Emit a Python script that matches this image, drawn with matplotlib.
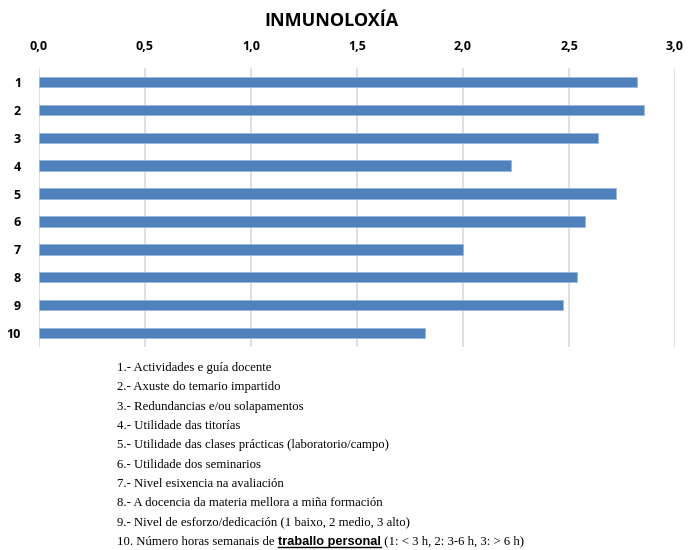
import matplotlib
matplotlib.use("Agg")
import matplotlib.pyplot as plt
from matplotlib.lines import Line2D

title = "INMUNOLOXÍA"
questions = ["1", "2", "3", "4", "5", "6", "7", "8", "9", "10"]
scores = [2.82, 2.855, 2.635, 2.226, 2.72, 2.575, 2.0, 2.54, 2.47, 1.82]
ticks = [0.0, 0.5, 1.0, 1.5, 2.0, 2.5, 3.0]
tick_labels = ["0,0", "0,5", "1,0", "1,5", "2,0", "2,5", "3,0"]
notes = [
    "1.- Actividades e guía docente",
    "2.- Axuste do temario impartido",
    "3.- Redundancias e/ou solapamentos",
    "4.- Utilidade das titorías",
    "5.- Utilidade das clases prácticas (laboratorio/campo)",
    "6.- Utilidade dos seminarios",
    "7.- Nivel esixencia na avaliación",
    "8.- A docencia da materia mellora a miña formación",
    "9.- Nivel de esforzo/dedicación (1 baixo, 2 medio, 3 alto)",
]
last_note = ["10. Número horas semanais de ", "traballo personal", " (1: < 3 h, 2: 3-6 h, 3: > 6 h)"]

fig = plt.figure(figsize=(6.88, 5.5), dpi=100)
ax = fig.add_axes([39 / 688, 1 - 347 / 550, 636 / 688, 279 / 550])

ypos = list(range(len(questions)))
ax.barh(ypos, scores, height=0.37, color="#4f81bd", edgecolor="#9bb7db", linewidth=0.6, zorder=3)
ax.set_ylim(len(questions) - 0.5, -0.5)
ax.set_xlim(0, 3.0)
ax.set_yticks(ypos)
ax.set_yticklabels(questions, fontsize=9, fontweight="bold", fontfamily="Open Sans")
ax.xaxis.tick_top()
ax.set_xticks(ticks)
ax.set_xticklabels(tick_labels, fontsize=9, fontweight="bold", fontfamily="Open Sans")
ax.tick_params(length=0, pad=11)
ax.tick_params(axis="y", pad=13)
ax.grid(axis="x", color="#d9d9d9", linewidth=1.2, zorder=0)
for s in ax.spines.values():
    s.set_visible(False)

fig.text(331 / 688, 1 - 21 / 550, title, ha="center", va="center", fontsize=13,
         fontweight="bold", fontfamily="Open Sans")

x0 = 117 / 688
y0 = 368
step = 19.3
fs = 9.2
for i, n in enumerate(notes):
    fig.text(x0, 1 - (y0 + i * step) / 550, n, ha="left", va="center", fontsize=fs,
             fontfamily="Liberation Serif")

# last line: mixed fonts with underlined bold part
yl = 1 - (y0 + 9 * step) / 550
fig.canvas.draw()
r = fig.canvas.get_renderer()
t1 = fig.text(x0, yl, last_note[0], ha="left", va="center", fontsize=fs, fontfamily="Liberation Serif")
bb = t1.get_window_extent(r)
x1 = bb.x1 / fig.bbox.width
t2 = fig.text(x1, yl, last_note[1], ha="left", va="center", fontsize=fs, fontweight="bold",
              fontfamily="Liberation Sans")
bb2 = t2.get_window_extent(r)
x2 = bb2.x1 / fig.bbox.width
uy = bb2.y0 / fig.bbox.height + 0.001
fig.add_artist(Line2D([x1, x2], [uy, uy], transform=fig.transFigure, color="black", linewidth=1))
fig.text(x2, yl, last_note[2], ha="left", va="center", fontsize=fs, fontfamily="Liberation Serif")

fig.savefig("out.png", dpi=100)
